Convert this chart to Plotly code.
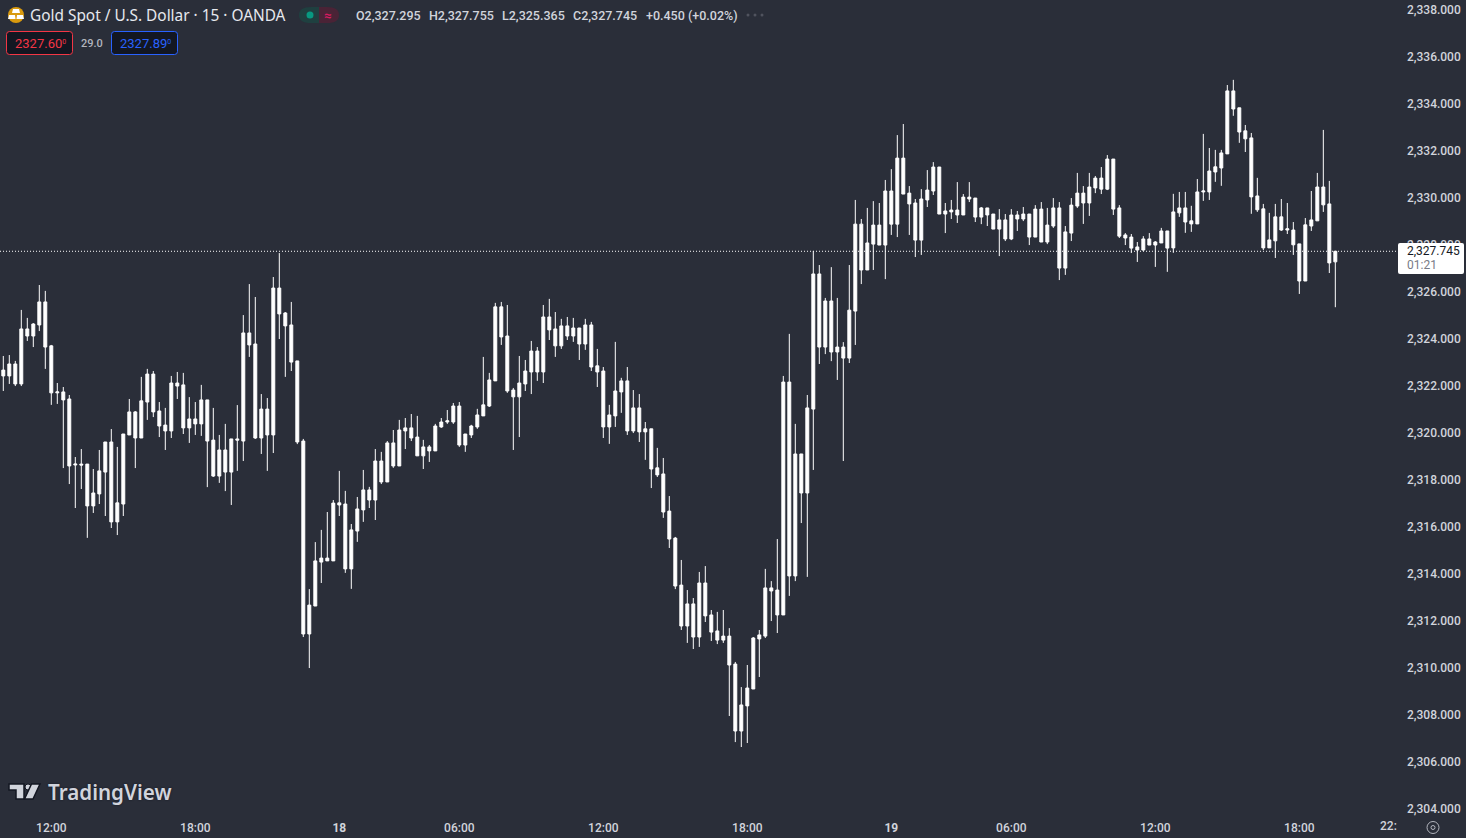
import plotly.graph_objects as go

opens = [2322.44,2322.44,2322.95,2322.10,2324.44,2324.14,2324.61,2325.59,2323.72,2321.72,2321.76,2321.46,2318.65,2318.69,2318.69,2316.91,2317.42,2318.35,2319.63,2316.23,
2316.99,2319.93,2320.91,2319.80,2321.33,2322.52,2320.95,2320.35,2320.10,2322.14,2322.06,2320.23,2320.61,2320.40,2321.42,2319.71,2318.18,2319.29,2318.35,2319.76,
2319.67,2324.27,2323.80,2319.80,2321.03,2319.93,2326.18,2325.12,2324.61,2323.08,2319.67,2311.46,2312.65,2314.52,2314.69,2314.57,2317.04,2316.99,2314.23,2315.84,
2316.74,2317.59,2317.16,2318.82,2317.93,2319.59,2318.61,2320.10,2320.23,2319.84,2319.04,2319.42,2319.25,2320.27,2320.48,2320.48,2321.16,2319.50,2319.93,2320.27,
2320.74,2321.16,2322.23,2325.38,2324.14,2321.84,2321.55,2322.10,2322.61,2323.50,2322.61,2324.95,2324.44,2323.72,2324.57,2324.14,2324.48,2323.80,2324.61,2322.87,
2322.65,2320.27,2320.74,2321.76,2322.23,2320.10,2321.08,2320.19,2320.19,2318.53,2318.27,2316.69,2315.54,2313.54,2311.80,2312.74,2311.33,2313.63,2312.27,2311.59,
2311.20,2311.37,2310.18,2307.33,2308.40,2309.12,2311.25,2311.37,2313.42,2313.33,2312.27,2322.18,2313.93,2319.12,2317.46,2321.03,2326.78,2323.67,2325.63,2323.46,
2323.67,2323.20,2325.20,2328.90,2326.95,2328.05,2328.86,2328.01,2330.31,2328.90,2331.71,2330.22,2329.80,2328.22,2329.93,2330.31,2331.33,2329.33,2329.42,2329.50,
2329.29,2330.05,2330.01,2329.20,2329.59,2329.33,2328.69,2329.08,2328.27,2329.29,2329.12,2329.33,2328.35,2329.54,2328.14,2328.82,2329.59,2327.03,2328.52,2329.67,
2330.22,2329.80,2330.44,2330.86,2330.39,2331.67,2329.59,2328.44,2328.35,2327.93,2327.80,2328.27,2328.14,2328.10,2328.61,2327.89,2329.38,2329.59,2329.04,2328.91,
2330.27,2330.27,2331.12,2331.29,2331.89,2334.57,2333.85,2332.87,2332.57,2330.10,2329.55,2327.89,2328.19,2329.21,2328.65,2328.65,2328.06,2326.48,2328.82,2329.04,
2330.48,2329.76,2327.295]

highs = [2323.29,2323.33,2323.08,2325.25,2324.91,2324.69,2326.31,2326.06,2323.76,2322.14,2321.97,2321.63,2318.99,2319.33,2318.69,2318.48,2319.29,2319.63,2320.18,2319.42,
2319.97,2321.46,2320.95,2322.40,2322.74,2322.65,2321.33,2321.08,2322.44,2322.61,2322.57,2321.54,2321.33,2322.06,2321.42,2321.08,2319.93,2320.40,2319.76,2321.20,
2325.03,2326.35,2325.80,2321.67,2321.50,2326.65,2327.67,2325.16,2325.59,2323.08,2319.76,2313.37,2315.37,2315.89,2316.65,2317.16,2318.40,2317.55,2316.14,2317.29,
2318.44,2317.72,2319.33,2319.21,2319.67,2320.14,2320.57,2320.65,2320.82,2320.74,2319.72,2319.50,2320.40,2320.65,2320.99,2321.29,2321.33,2319.97,2320.36,2321.04,
2323.25,2322.57,2325.55,2325.59,2325.46,2321.93,2323.29,2323.12,2323.93,2323.67,2325.46,2325.72,2325.16,2324.87,2324.95,2324.91,2324.48,2324.87,2324.74,2323.59,
2322.82,2321.21,2323.89,2322.36,2322.82,2321.84,2321.67,2320.48,2320.19,2319.38,2318.95,2317.33,2315.59,2314.61,2313.33,2312.99,2314.10,2314.35,2312.48,2312.40,
2312.48,2311.71,2310.27,2309.20,2310.14,2311.33,2311.63,2314.23,2313.71,2315.50,2322.44,2324.23,2320.40,2319.12,2321.63,2327.76,2327.16,2325.76,2327.07,2325.76,
2323.88,2327.16,2329.93,2329.12,2329.59,2329.88,2329.80,2330.78,2331.24,2332.69,2333.16,2330.52,2329.97,2330.39,2331.20,2331.54,2331.33,2329.80,2329.93,2330.69,
2330.18,2330.69,2330.01,2329.63,2329.59,2329.33,2329.54,2329.33,2329.54,2329.46,2329.63,2329.33,2329.71,2329.84,2329.59,2330.01,2329.84,2328.82,2330.01,2331.08,
2330.52,2331.08,2330.95,2331.33,2331.84,2331.67,2329.71,2328.52,2328.48,2328.14,2328.39,2328.52,2328.18,2328.74,2328.61,2330.19,2330.27,2330.27,2329.68,2330.82,
2332.74,2332.14,2332.06,2332.06,2334.82,2335.04,2333.85,2333.12,2332.78,2330.87,2329.76,2329.38,2329.76,2329.97,2329.80,2328.99,2328.06,2329.16,2330.31,2331.08,
2332.91,2330.74,2327.755]

lows = [2321.80,2322.10,2322.01,2322.01,2323.93,2323.67,2324.35,2322.74,2321.21,2321.25,2318.52,2317.84,2316.82,2317.63,2315.55,2316.61,2316.99,2316.48,2315.97,2315.67,
2316.48,2319.93,2318.52,2319.80,2320.57,2320.69,2319.84,2319.29,2319.80,2321.46,2319.97,2319.59,2319.93,2319.89,2317.71,2318.14,2317.89,2317.54,2316.95,2318.40,
2318.82,2323.25,2319.76,2319.12,2318.40,2319.16,2324.01,2322.40,2322.65,2319.54,2311.33,2310.01,2312.65,2313.63,2314.57,2314.57,2316.48,2314.06,2313.38,2315.38,
2316.23,2316.82,2316.31,2317.84,2317.93,2318.53,2318.61,2319.33,2319.67,2319.04,2318.48,2318.78,2319.25,2320.23,2320.40,2320.40,2319.42,2319.21,2319.80,2320.19,
2320.74,2321.12,2322.23,2323.76,2321.72,2319.29,2319.84,2321.80,2321.67,2322.23,2322.14,2323.97,2323.25,2323.59,2323.97,2323.89,2323.12,2323.55,2322.65,2321.97,
2319.80,2319.55,2320.27,2320.87,2319.93,2320.01,2319.63,2318.87,2317.67,2318.14,2316.40,2315.12,2313.37,2311.63,2311.08,2310.82,2310.91,2311.97,2311.16,2311.03,
2311.08,2307.97,2306.86,2306.65,2306.82,2309.12,2309.63,2311.29,2312.01,2311.50,2312.27,2313.08,2313.71,2316.18,2313.89,2318.44,2322.95,2323.37,2323.07,2322.27,
2318.82,2322.99,2323.76,2326.35,2326.95,2326.95,2328.01,2326.56,2328.44,2328.35,2330.18,2328.44,2327.50,2327.59,2329.63,2330.14,2329.33,2328.52,2329.12,2328.95,
2329.29,2329.84,2328.99,2328.90,2328.82,2328.69,2327.54,2328.18,2328.22,2328.61,2329.03,2328.01,2328.35,2328.14,2328.05,2328.74,2326.52,2326.74,2328.18,2329.59,
2328.91,2329.25,2330.22,2330.18,2330.35,2329.29,2328.31,2328.01,2327.67,2327.29,2327.76,2328.01,2327.08,2328.10,2326.87,2327.68,2329.21,2328.53,2328.57,2328.91,
2329.89,2329.93,2330.70,2330.53,2331.89,2333.51,2332.36,2331.97,2329.34,2329.42,2327.80,2327.89,2327.46,2328.61,2328.48,2327.59,2325.93,2326.48,2328.61,2329.04,
2329.42,2326.82,2325.365]

closes = [2322.69,2322.95,2322.10,2324.44,2324.14,2324.65,2325.59,2323.67,2321.72,2321.76,2321.42,2318.61,2318.69,2318.65,2316.91,2317.46,2318.40,2319.63,2316.23,2317.04,
2319.97,2320.91,2319.80,2321.38,2322.52,2320.91,2320.31,2320.10,2322.14,2322.01,2320.23,2320.61,2320.40,2321.42,2319.67,2318.18,2319.29,2318.35,2319.76,2319.71,
2324.27,2323.76,2319.80,2321.03,2319.93,2326.18,2325.08,2324.57,2323.03,2319.63,2311.46,2312.69,2314.57,2314.69,2314.57,2317.03,2316.95,2314.23,2315.89,2316.78,
2317.59,2317.16,2318.82,2317.93,2319.59,2318.61,2320.14,2320.23,2319.80,2319.04,2319.42,2319.25,2320.31,2320.48,2320.53,2321.16,2319.50,2319.97,2320.31,2320.78,
2321.21,2322.27,2325.38,2324.10,2321.80,2321.55,2322.14,2322.65,2323.50,2322.61,2324.95,2324.40,2323.72,2324.57,2324.14,2324.48,2323.80,2324.61,2322.82,2322.61,
2320.27,2320.78,2321.80,2322.23,2320.10,2321.08,2320.06,2320.06,2318.48,2318.23,2316.65,2315.50,2313.50,2311.80,2312.74,2311.33,2313.63,2312.23,2311.54,2311.20,
2311.37,2310.14,2307.33,2308.44,2309.16,2311.29,2311.42,2313.42,2313.29,2312.27,2322.18,2313.93,2319.12,2317.46,2321.08,2326.78,2323.67,2325.63,2323.46,2323.67,
2323.20,2325.24,2328.90,2326.95,2328.10,2328.86,2328.01,2330.31,2328.90,2331.71,2330.18,2329.76,2328.22,2329.97,2330.35,2331.33,2329.33,2329.46,2329.50,2329.29,
2330.05,2329.97,2329.20,2329.59,2329.29,2328.69,2329.08,2328.27,2329.29,2329.12,2329.33,2328.35,2329.54,2328.14,2328.86,2329.59,2327.03,2328.57,2329.71,2330.22,
2329.80,2330.48,2330.86,2330.39,2331.67,2329.54,2328.39,2328.31,2327.88,2327.80,2328.27,2328.01,2328.01,2328.61,2327.88,2329.42,2329.59,2328.99,2328.91,2330.27,
2330.31,2331.16,2331.34,2331.93,2334.57,2333.80,2332.82,2332.53,2330.06,2329.51,2327.89,2328.23,2329.21,2328.65,2328.70,2328.02,2326.48,2328.87,2329.08,2330.48,
2329.72,2327.25,2327.745]

tick_bars = [8, 32, 56, 76, 100, 124, 148, 168, 192, 216]
tick_labels = ["12:00", "18:00", "<b>18</b>", "06:00", "12:00", "18:00", "<b>19</b>", "06:00", "12:00", "18:00"]
price_ticks = list(range(2304, 2340, 2))
last_price = closes[-1]

BG = "#2a2e39"
TEXT = "#d1d4dc"
PW, PH = 1397, 815
FONT = "Roboto"


def px(x):
    return x / PW


def py(y):
    return 1 - y / PH


def rrect(x0, y0, x1, y1, r):
    return (f"M {px(x0+r)} {py(y0)} L {px(x1-r)} {py(y0)} Q {px(x1)} {py(y0)} {px(x1)} {py(y0+r)} "
            f"L {px(x1)} {py(y1-r)} Q {px(x1)} {py(y1)} {px(x1-r)} {py(y1)} "
            f"L {px(x0+r)} {py(y1)} Q {px(x0)} {py(y1)} {px(x0)} {py(y1-r)} "
            f"L {px(x0)} {py(y0+r)} Q {px(x0)} {py(y0)} {px(x0+r)} {py(y0)} Z")


def poly(points):
    head = points[0]
    s = f"M {px(head[0])} {py(head[1])} "
    for p in points[1:]:
        s += f"L {px(p[0])} {py(p[1])} "
    return s + "Z"


def path(d, fill, line=None, lw=0):
    return dict(type="path", xref="paper", yref="paper", path=d, fillcolor=fill,
                line=dict(color=line or fill, width=lw), layer="above")


def circle(cx, cy, r, fill, line=None, lw=0):
    return dict(type="circle", xref="paper", yref="paper", x0=px(cx-r), x1=px(cx+r), y0=py(cy+r), y1=py(cy-r),
                fillcolor=fill, line=dict(color=line or fill, width=lw), layer="above")


def label(x, y, text, size=12, color=TEXT, anchor="left", weight=400, family=FONT, shadow=None):
    font = dict(family=family, size=size, color=color, weight=weight)
    if shadow:
        font["shadow"] = shadow
    return dict(xref="paper", yref="paper", x=px(x), y=py(y), text=text, showarrow=False,
                xanchor=anchor, yanchor="middle", font=font, borderpad=0)


fig = go.Figure(go.Candlestick(
    x=list(range(len(opens))), open=opens, high=highs, low=lows, close=closes,
    increasing=dict(line=dict(color="#ffffff", width=1), fillcolor="#ffffff"),
    decreasing=dict(line=dict(color="#ffffff", width=1), fillcolor="#ffffff"),
    whiskerwidth=0, hoverinfo="skip", showlegend=False,
))

shapes = [
    dict(type="line", xref="paper", yref="y", x0=0, x1=1, y0=last_price, y1=last_price,
         line=dict(color="#ffffff", width=1, dash="1px,2px"), layer="above"),
    # last price tag
    path(rrect(1398, 243, 1464, 274, 2), "#ffffff"),
    # symbol icon
    circle(16, 15, 8, "#d99a0e"),
    path(poly([(13, 9), (19, 9), (20, 13), (12, 13)]), "#ffffff"),
    path(poly([(9, 15), (15, 15), (15.5, 19), (8, 19)]), "#ffffff"),
    path(poly([(17, 15), (23, 15), (24, 19), (16.5, 19)]), "#ffffff"),
    # status pill
    path(f"M {px(319)} {py(7)} L {px(311)} {py(7)} Q {px(299)} {py(7)} {px(299)} {py(15)} Q {px(299)} {py(23)} {px(311)} {py(23)} L {px(319)} {py(23)} Z", "#1f4040"),
    path(f"M {px(319)} {py(7)} L {px(327)} {py(7)} Q {px(339)} {py(7)} {px(339)} {py(15)} Q {px(339)} {py(23)} {px(327)} {py(23)} L {px(319)} {py(23)} Z", "#4a2336"),
    circle(310, 15, 3.5, "#089981"),
    # overflow dots
    circle(748, 15, 1.5, "#50535e"), circle(755, 15, 1.5, "#50535e"), circle(762, 15, 1.5, "#50535e"),
    # sell / buy boxes
    path(rrect(6.5, 31.5, 72.5, 54.5, 3), "#131722", "#f23645", 1),
    path(rrect(111.5, 31.5, 177.5, 54.5, 3), "#131722", "#2962ff", 1),
    # watermark logo
    path(poly([(9, 784), (24, 784), (24, 799), (16, 799), (16, 790), (9, 790)]), TEXT, "#131722", 1.5),
    circle(28, 787, 3, TEXT, "#131722", 1),
    path(poly([(40, 784), (33, 799), (24.5, 799), (31.5, 784)]), TEXT, "#131722", 1.5),
    # settings icon
    circle(1433, 827.5, 6, "rgba(0,0,0,0)", "#b2b5be", 1),
    circle(1433, 827.5, 2, "rgba(0,0,0,0)", "#b2b5be", 1),
]

annotations = [
    label(29, 15, "Gold Spot / U.S. Dollar · 15 · OANDA", size=15.4, color="#e6e8ee", family="Noto Sans"),
    label(328, 15, "≈", size=13, color="#d81b60", anchor="center", weight=700),
    label(355, 15, "O2,327.295", size=12.5, weight=500),
    label(428, 15, "H2,327.755", size=12.5, weight=500),
    label(501, 15, "L2,325.365", size=12.5, weight=500),
    label(572, 15, "C2,327.745", size=12.5, weight=500),
    label(645, 15, "+0.450", size=12.5, weight=500),
    label(687, 15, "(+0.02%)", size=12.5, weight=500),
    label(14, 43.5, '2327.60<span style="font-size:10px"><sup>0</sup></span>', size=13, color="#f23645"),
    label(92, 43.5, "29.0", size=11, color="#b2b5be", anchor="center", weight=500),
    label(119, 43.5, '2327.89<span style="font-size:10px"><sup>0</sup></span>', size=13, color="#2962ff"),
    label(1406, 251, "2,327.745", size=12, color="#131722"),
    label(1406, 265, "01:21", size=12, color="#787b86"),
    label(47, 792, "TradingView", size=20.6, color=TEXT, weight=600, family="Noto Sans", shadow="0 0 2px #131722"),
    label(1398, 826, "22:", size=12, anchor="right", weight=500),
]

fig.update_layout(
    width=1466, height=838, autosize=False,
    margin=dict(l=0, r=1466 - PW, t=0, b=838 - PH, pad=0),
    paper_bgcolor=BG, plot_bgcolor=BG,
    showlegend=False, dragmode=False, hovermode=False,
    font=dict(family=FONT, color=TEXT, size=12),
    shapes=shapes, annotations=annotations,
    xaxis=dict(
        range=[-0.55, 232.28], rangeslider=dict(visible=False), showgrid=False, zeroline=False,
        showline=False, ticks="", tickvals=tick_bars, ticktext=tick_labels, tickangle=0,
        tickfont=dict(family=FONT, size=12, color=TEXT, weight=500), automargin=False, ticklabelstandoff=4,
    ),
    yaxis=dict(
        range=[2303.757, 2338.438], side="right", showgrid=False, zeroline=False, showline=False,
        ticks="", tickvals=price_ticks, tickformat=",.3f",
        tickfont=dict(family=FONT, size=12, color=TEXT, weight=500), automargin=False, ticklabelstandoff=9,
    ),
)

fig.write_html("out.html", config=dict(displayModeBar=False),
               post_script="document.documentElement.style.background='#2a2e39';document.body.style.margin='0';document.body.style.overflow='hidden';")
